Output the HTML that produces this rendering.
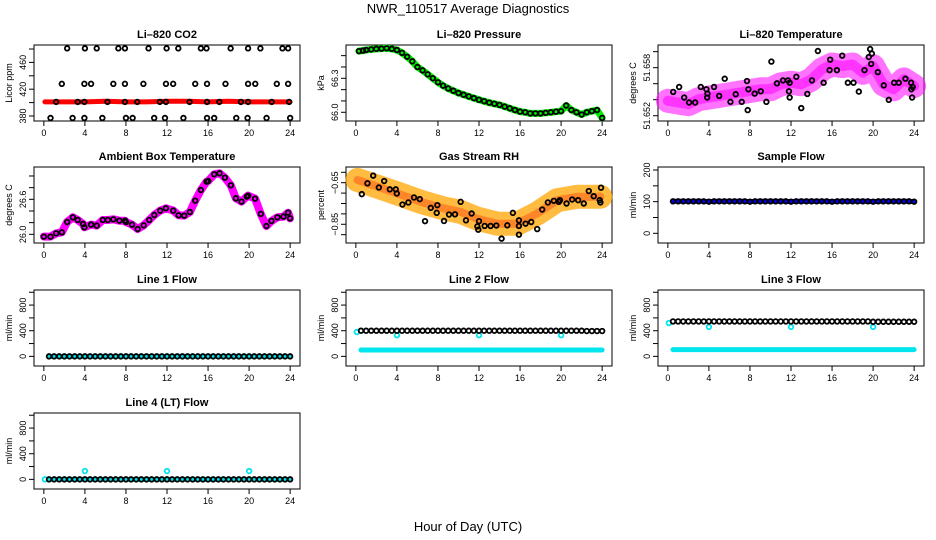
<!DOCTYPE html>
<html><head><meta charset="utf-8"><style>
html,body{margin:0;padding:0;background:#fff}
svg{display:block;font-family:"Liberation Sans",Arial,sans-serif}
</style></head><body>
<svg id="chart" width="936" height="540" viewBox="0 0 936 540">
<text x="468" y="13" text-anchor="middle" font-size="13">NWR_110517  Average Diagnostics</text>
<text x="468" y="531" text-anchor="middle" font-size="13">Hour of Day (UTC)</text>
</svg>
<script>
// ---- data ----
const hours = [0,1,2,3,4,5,6,7,8,9,10,11,12,13,14,15,16,17,18,19,20,21,22,23,24];
const xTicks = [0,4,8,12,16,20,24];

const co2RedT = [0.1,2,4,6,8,10,12,14,16,18,20,22,24];
const co2RedV = [401,401,401,402,401,401,402,402,401,402,401,401,401];
const co2BlackT = [2.27,4.0,5.15,7.26,7.9,10.2,11.96,13.1,15.3,15.85,18.2,19.9,21.1,23.25,23.8,
 1.75,3.95,4.6,6.77,7.9,9.7,11.9,12.6,14.75,15.9,17.7,19.9,20.6,22.7,23.8,
 1.2,3.3,3.95,6.2,7.9,9.1,11.3,11.9,14.2,15.9,17.1,19.2,19.9,22.2,23.9,
 0.65,2.8,3.95,5.7,8.0,8.65,10.75,11.8,13.6,15.9,16.6,18.75,19.85,21.7,24.0];
const co2BlackV = [481,481,481,481,481,481,481,481,481,481,481,481,481,481,481,
 428,428,428,428,428,428,428,428,428,428,428,428,428,428,428,
 401,401,401,401,401,401,401,401,401,401,401,401,401,401,401,
 377,377,377,377,377,377,377,377,377,377,377,377,377,377,377];

const presT = [0.3,0.7,1,1.5,2,2.5,3,3.5,4,4.5,5,5.5,6,6.5,7,7.5,8,8.5,9,9.5,10,10.5,11,11.5,12,12.5,13,13.5,14,14.5,15,15.5,16,16.5,17,17.5,18,18.5,19,19.5,20,20.5,21,21.5,22,22.5,23,23.5,24];
const presV = [66.54,66.545,66.55,66.555,66.56,66.562,66.565,66.56,66.55,66.525,66.49,66.45,66.40,66.37,66.335,66.30,66.265,66.235,66.21,66.19,66.17,66.155,66.14,66.125,66.11,66.098,66.085,66.075,66.065,66.05,66.035,66.02,66.006,66.0,65.99,65.99,65.99,65.995,66.0,66.005,66.01,66.06,66.02,66.0,65.98,66.0,66.01,66.02,65.95];

const ltT = hours;
const ltV = [51.65386,51.65365,51.65344,51.65406,51.65427,51.65447,51.65468,51.65489,51.65509,51.6553,51.6553,51.65592,51.65612,51.65592,51.65654,51.65777,51.65839,51.65819,51.65839,51.65736,51.65819,51.65592,51.6553,51.65654,51.65571];
const ltBlackT = [0.52,1.1,1.59,2.07,2.66,3.21,3.76,3.83,3.86,4.5,5.0,5.54,6.1,6.61,7.2,7.71,7.78,7.85,8.46,9.05,9.6,10.09,10.63,11.22,11.7,11.8,11.87,11.87,12.52,13.0,13.59,14.04,14.62,15.18,15.76,15.82,16.47,16.99,17.54,18.09,18.61,19.16,19.58,19.71,19.81,19.88,20.46,21.04,21.53,22.05,22.5,23.15,23.7,23.73,23.86,23.8];
const ltBlackV = [51.65497,51.65559,51.65427,51.65365,51.65365,51.65559,51.6553,51.65427,51.65476,51.65559,51.65447,51.65662,51.65373,51.65468,51.65373,51.65633,51.6527,51.6553,51.65476,51.65505,51.65373,51.65876,51.65604,51.65641,51.65641,51.65505,51.65427,51.65612,51.65686,51.65295,51.65472,51.65641,51.66008,51.65612,51.65769,51.659,51.65769,51.6595,51.65612,51.65612,51.65501,51.65769,51.65933,51.66032,51.65847,51.65975,51.65744,51.65579,51.65398,51.65612,51.65612,51.65662,51.65612,51.6553,51.65559,51.65427];

const boxT = [0.0,0.65,1.2,1.75,2.27,2.82,3.3,3.82,3.95,4.6,5.15,5.74,6.23,6.77,7.36,7.91,8.0,8.59,9.14,9.73,10.27,10.76,11.34,11.9,12.61,13.13,13.68,14.23,14.75,15.3,15.86,16.01,16.6,17.12,17.64,18.22,18.71,19.26,19.78,19.9,20.58,21.14,21.69,22.18,22.76,23.35,23.8,23.99];
const boxV = [25.96,25.96,26.017,26.034,26.211,26.291,26.246,26.177,26.12,26.166,26.149,26.246,26.246,26.257,26.234,26.234,26.211,26.166,26.091,26.154,26.246,26.331,26.406,26.446,26.406,26.326,26.32,26.383,26.577,26.76,26.903,26.914,27.029,27.046,26.971,26.84,26.617,26.56,26.646,26.663,26.611,26.349,26.143,26.229,26.291,26.303,26.371,26.274];

const rhCloudT = [0.16,2.1,4.06,6.32,8.59,10.2,11.84,13.78,15.73,17.67,19.62,21.57,23.83];
const rhCloudV = [-0.637,-0.669,-0.702,-0.742,-0.774,-0.790,-0.823,-0.847,-0.847,-0.798,-0.734,-0.718,-0.718];
const rhBlackT = [0.58,1.13,1.69,2.24,2.76,3.31,3.89,3.99,4.54,5.12,5.67,6.23,6.74,7.3,7.88,7.94,8.59,9.08,9.66,10.21,10.73,11.28,11.84,11.93,12.0,12.55,13.13,13.69,14.2,14.76,15.3,15.89,15.89,15.89,16.54,17.09,17.67,18.16,18.71,19.29,19.78,19.88,20.53,21.08,21.66,22.21,22.7,23.18,23.76,23.89,23.83];
const rhBlackV = [-0.705,-0.653,-0.616,-0.673,-0.642,-0.682,-0.682,-0.702,-0.755,-0.745,-0.721,-0.729,-0.835,-0.771,-0.795,-0.758,-0.834,-0.803,-0.802,-0.742,-0.831,-0.798,-0.860,-0.876,-0.835,-0.858,-0.858,-0.856,-0.919,-0.855,-0.795,-0.831,-0.858,-0.900,-0.847,-0.839,-0.873,-0.779,-0.745,-0.737,-0.742,-0.734,-0.750,-0.731,-0.734,-0.750,-0.690,-0.715,-0.734,-0.674,-0.745];

const flowT = [0.5,1,1.5,2,2.5,3,3.5,4,4.5,5,5.5,6,6.5,7,7.5,8,8.5,9,9.5,10,10.5,11,11.5,12,12.5,13,13.5,14,14.5,15,15.5,16,16.5,17,17.5,18,18.5,19,19.5,20,20.5,21,21.5,22,22.5,23,23.5,24];
const sampleV = [101,101,101,101,101,101,101,100,101,101,101,101,101,101,101,100,101,101,101,101,101,101,101,100,101,101,101,101,101,101,101,100,101,101,101,101,101,101,101,100,101,101,101,101,101,101,101,100];
const line1Black = [0,0,0,0,0,0,0,0,0,0,0,0,0,0,0,0,0,0,0,0,0,0,0,0,0,0,0,0,0,0,0,0,0,0,0,0,0,0,0,0,0,0,0,0,0,0,0,0];
const line1Cyan  = [0,0,0,0,0,0,0,0,0,0,0,0,0,0,0,0,0,0,0,0,0,0,0,0,0,0,0,0,0,0,0,0,0,0,0,0,0,0,0,0,0,0,0,0,0,0,0,0];
const line2Black = [400,400,400,400,400,400,400,400,400,400,400,400,400,400,400,400,400,400,400,400,400,400,400,400,400,400,400,400,400,400,400,400,400,400,400,400,400,400,400,400,400,400,400,400,395,395,395,395];
const line2Cyan  = [100,100,100,100,100,100,100,100,100,100,100,100,100,100,100,100,100,100,100,100,100,100,100,100,100,100,100,100,100,100,100,100,100,100,100,100,100,100,100,100,100,100,100,100,100,100,100,100];
const line3Black = [545,545,545,545,545,545,545,545,545,545,545,545,545,545,545,545,545,545,545,545,545,545,545,545,545,545,545,545,545,545,545,545,545,545,545,545,545,545,545,540,540,540,540,540,540,540,540,540];
const line3Cyan  = [105,105,105,105,105,105,105,105,105,105,105,105,105,105,105,105,105,105,105,105,105,105,105,105,105,105,105,105,105,105,105,105,105,105,105,105,105,105,105,105,105,105,105,105,105,105,105,105];
const line4Black = [0,0,0,0,0,0,0,0,0,0,0,0,0,0,0,0,0,0,0,0,0,0,0,0,0,0,0,0,0,0,0,0,0,0,0,0,0,0,0,0,0,0,0,0,0,0,0,0];
const line4Cyan  = [0,0,0,0,0,0,0,0,0,0,0,0,0,0,0,0,0,0,0,0,0,0,0,0,0,0,0,0,0,0,0,0,0,0,0,0,0,0,0,0,0,0,0,0,0,0,0,0];
const cyanOutT = [0.1,4,12,20];
const line2Out = [380,330,330,330];
const line3Out = [520,460,460,460];
const line4Out = [0,130,130,130];

// ---- drawing ----
const NS = 'http://www.w3.org/2000/svg';
const svg = document.getElementById('chart');
function mk(tag, attrs, parent){const e=document.createElementNS(NS,tag);for(const k in attrs)e.setAttribute(k,attrs[k]);(parent||svg).appendChild(e);return e;}

const BW=266, BH=76;
function makePanel(col,row,title,ylab,ymin,ymax,yTicks,yLabels,name){
  const L=34+col*312, T=[45,167,290,413][row];
  const g=mk('g',{});
  
  
  const xs=h=>L+(h+0.96)/25.92*BW;
  const ys=v=>T+BH-(v-ymin)/(ymax-ymin)*BH;
  const t=mk('text',{x:L+BW/2,y:T-7,'text-anchor':'middle','font-size':'11','font-weight':'bold'},g);
  t.textContent=title;
  
  
  const fr=mk('rect',{x:L,y:T,width:BW,height:BH,fill:'none',stroke:'#000','stroke-width':1},g);
  
  
  const xa=mk('g',{},g);
  
  
  mk('line',{x1:xs(0),x2:xs(24),y1:T+BH,y2:T+BH,stroke:'#000'},xa);
  xTicks.forEach(h=>{
    mk('line',{x1:xs(h),x2:xs(h),y1:T+BH,y2:T+BH+5,stroke:'#000'},xa);
    const tx=mk('text',{x:xs(h),y:T+BH+15,'text-anchor':'middle','font-size':'9'},xa);
    tx.textContent=h;
  });
  const ya=mk('g',{},g);
  
  
  mk('line',{x1:L,x2:L,y1:ys(yTicks[0]),y2:ys(yTicks[yTicks.length-1]),stroke:'#000'},ya);
  yTicks.forEach((v,i)=>{
    mk('line',{x1:L-5,x2:L,y1:ys(v),y2:ys(v),stroke:'#000'},ya);
    if(yLabels[i]!==''){
      const tx=mk('text',{x:0,y:0,'text-anchor':'middle','font-size':'9',transform:`translate(${L-8},${ys(v)}) rotate(-90)`},ya);
      tx.textContent=yLabels[i];
    }
  });
  const yl=mk('text',{x:0,y:0,'text-anchor':'middle','font-size':'9',transform:`translate(${L-22},${T+BH/2}) rotate(-90)`},g);
  yl.textContent=ylab;
  
  
  return {g,xs,ys};
}
function band(p,T,V,color,w,op,nm){
  const d=T.map((t,i)=>(i?'L':'M')+p.xs(t).toFixed(1)+','+p.ys(V[i]).toFixed(1)).join(' ');
  const e=mk('path',{d:d,fill:'none',stroke:color,'stroke-width':w,'stroke-linejoin':'round','stroke-linecap':'round',opacity:op},p.g);
  
  
}
function pts(p,T,V,color,r,sw,nm){
  const gg=mk('g',{},p.g);
  
  
  T.forEach((t,i)=>{mk('circle',{cx:p.xs(t),cy:p.ys(V[i]),r:r,fill:'none',stroke:color,'stroke-width':sw},gg);});
}

// Panel 1 CO2
let p=makePanel(0,0,'Li\u2013820 CO2','Licor ppm',372.5,486,[380,400,420,440,460,480],['380','','420','','460',''],'co2-panel');
band(p,co2RedT,co2RedV,'#ff0000',5,1,'co2-red-series');
pts(p,co2BlackT,co2BlackV,'#000',2.3,1.8,'co2-black-points');

// Panel 2 Pressure
p=makePanel(1,0,'Li\u2013820 Pressure','kPa',65.923,66.594,[66.0,66.1,66.2,66.3,66.4,66.5],['66.0','','','66.3','',''],'pressure-panel');
band(p,presT,presV,'#00ee00',7,1,'pressure-green-series');
pts(p,presT,presV,'#000',2.3,1.8,'pressure-black-points');

// Panel 3 Li-820 Temperature
p=makePanel(2,0,'Li\u2013820 Temperature','degrees C',51.65134,51.66083,[51.652,51.654,51.656,51.658,51.660],['51.652','','','51.658',''],'licor-temp-panel');
band(p,ltT,ltV,'#ff00ff',24,0.55,'licor-temp-magenta-series');
band(p,ltT,ltV,'#ff00ff',10,0.55,'licor-temp-magenta-core');
pts(p,ltBlackT,ltBlackV,'#000',2.3,1.8,'licor-temp-black-points');

// Panel 4 Ambient box temperature
p=makePanel(0,1,'Ambient Box Temperature','degrees C',25.851,27.154,[26.0,26.2,26.4,26.6,26.8,27.0],['26.0','','','26.6','',''],'box-temp-panel');
band(p,boxT,boxV,'#ff00ff',8,1,'box-temp-magenta-series');
pts(p,boxT,boxV,'#000',2.3,1.8,'box-temp-black-points');

// Panel 5 Gas Stream RH
p=makePanel(1,1,'Gas Stream RH','percent',-0.94,-0.5745,[-0.9,-0.85,-0.8,-0.75,-0.7,-0.65,-0.6],['','\u22120.85','','','','\u22120.65',''],'rh-panel');
band(p,rhCloudT,rhCloudV,'#ffa500',24,0.75,'rh-orange-series');
band(p,rhCloudT,rhCloudV,'#ff2000',8,0.35,'rh-red-core');
pts(p,rhBlackT,rhBlackV,'#000',2.3,1.8,'rh-black-points');

// Panel 6 Sample flow
p=makePanel(2,1,'Sample Flow','ml/min',-30.6,209.5,[0,50,100,150,200],['0','','100','','200'],'sample-flow-panel');
band(p,flowT,sampleV,'#0000ff',5,1,'sample-flow-blue-series');
pts(p,flowT,sampleV,'#000',2.3,1.8,'sample-flow-black-points');

const flowTicks=[0,200,400,600,800,1000], flowLabels=['0','','400','','800',''];
// Panel 7 Line 1
p=makePanel(0,2,'Line 1 Flow','ml/min',-150,1035,flowTicks,flowLabels,'line1-flow-panel');
band(p,flowT,line1Cyan,'#00e5ee',5,1,'line1-cyan-series');
pts(p,flowT,line1Black,'#000',2.3,1.8,'line1-black-points');
// Panel 8 Line 2
p=makePanel(1,2,'Line 2 Flow','ml/min',-150,1035,flowTicks,flowLabels,'line2-flow-panel');
band(p,flowT,line2Cyan,'#00e5ee',5,1,'line2-cyan-series');
pts(p,cyanOutT,line2Out,'#00e5ee',2.3,1.8,'line2-cyan-outliers');
pts(p,flowT,line2Black,'#000',2.3,1.8,'line2-black-points');
// Panel 9 Line 3
p=makePanel(2,2,'Line 3 Flow','ml/min',-150,1035,flowTicks,flowLabels,'line3-flow-panel');
band(p,flowT,line3Cyan,'#00e5ee',5,1,'line3-cyan-series');
pts(p,cyanOutT,line3Out,'#00e5ee',2.3,1.8,'line3-cyan-outliers');
pts(p,flowT,line3Black,'#000',2.3,1.8,'line3-black-points');
// Panel 10 Line 4
p=makePanel(0,3,'Line 4 (LT) Flow','ml/min',-150,1035,flowTicks,flowLabels,'line4-flow-panel');
band(p,flowT,line4Cyan,'#00e5ee',5,1,'line4-cyan-series');
pts(p,cyanOutT,line4Out,'#00e5ee',2.3,1.8,'line4-cyan-outliers');
pts(p,flowT,line4Black,'#000',2.3,1.8,'line4-black-points');
</script>
</body></html>
